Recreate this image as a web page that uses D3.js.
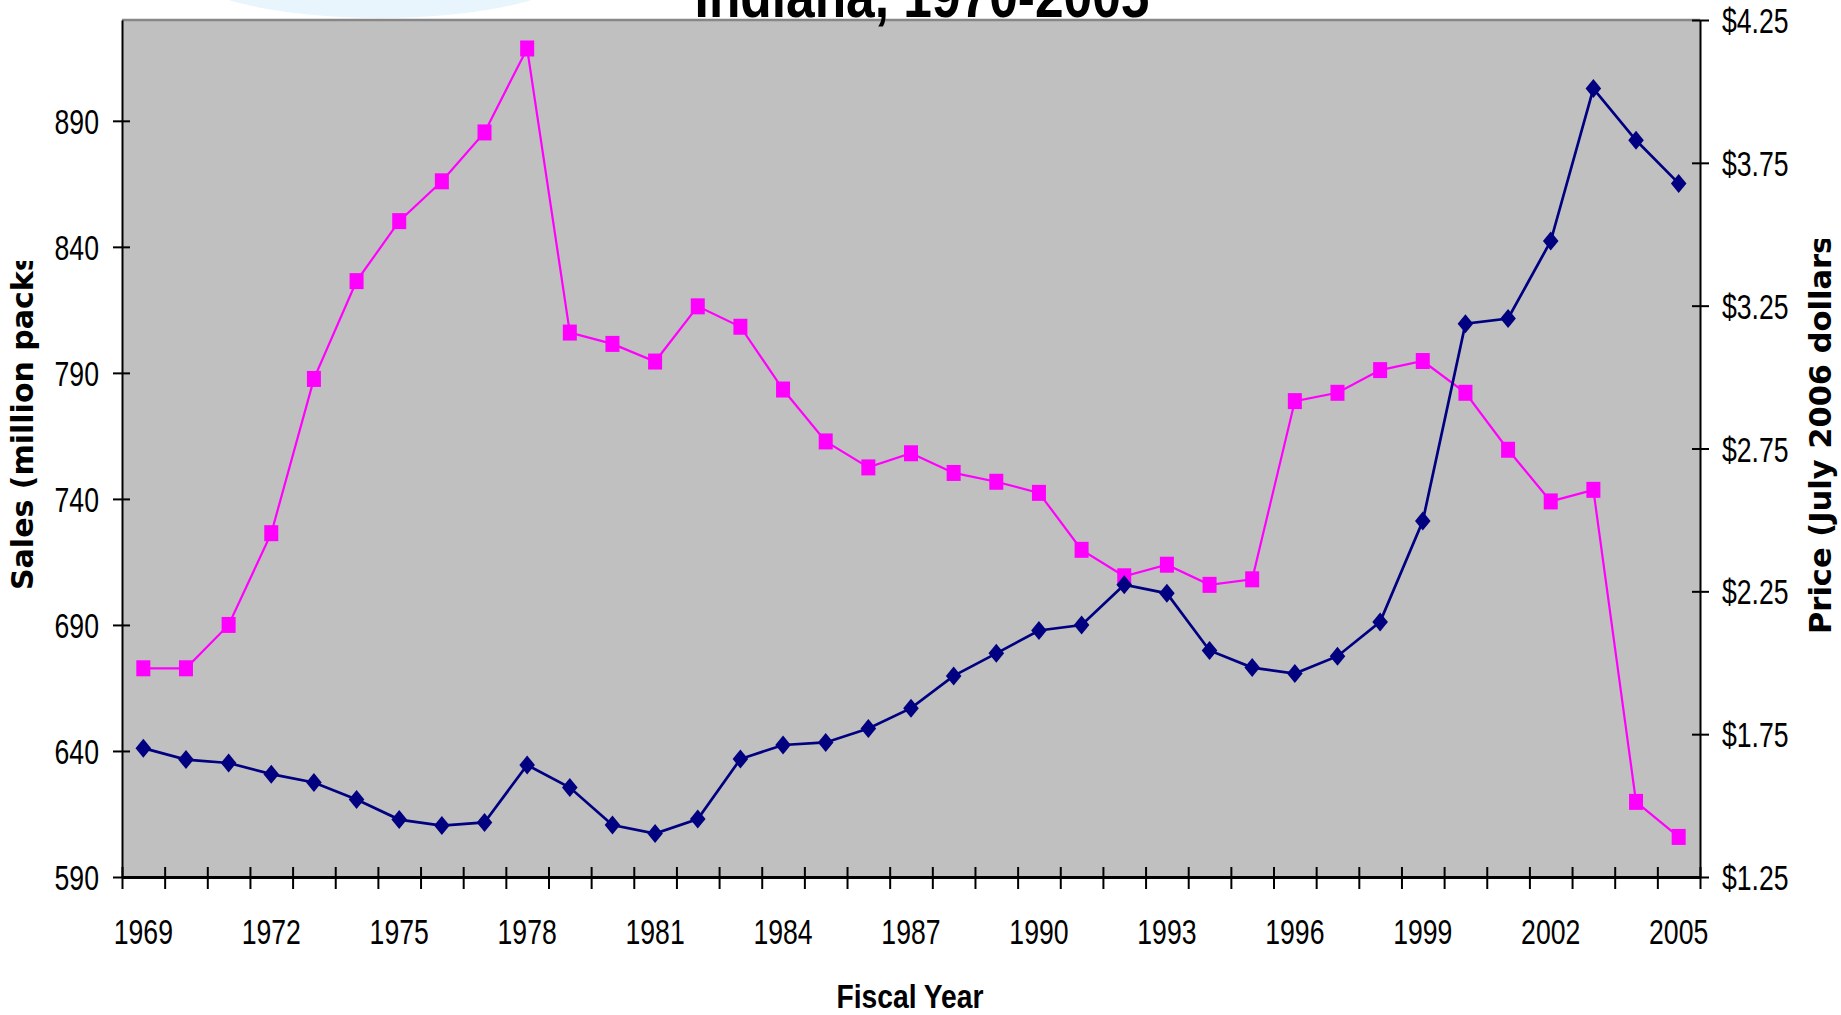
<!DOCTYPE html>
<html>
<head>
<meta charset="utf-8">
<script src="https://cdn.jsdelivr.net/npm/d3@7"></script>
<style>
  body { margin: 0; background: #fff; }
  svg { display: block; }
</style>
</head>
<body>
<div id="chart-area"></div>
<script>
// values
const years = [1969, 1970, 1971, 1972, 1973, 1974, 1975, 1976, 1977, 1978,
  1979, 1980, 1981, 1982, 1983, 1984, 1985, 1986, 1987, 1988,
  1989, 1990, 1991, 1992, 1993, 1994, 1995, 1996, 1997, 1998,
  1999, 2000, 2001, 2002, 2003, 2004, 2005]

// sales, million packs (left axis)
const sales = [672.8, 672.8, 690.0, 726.4, 787.6, 826.4, 850.2, 866.0, 885.4, 918.7,
  806.0, 801.5, 794.5, 816.4, 808.3, 783.4, 762.8, 752.5, 758.1, 750.3,
  746.8, 742.4, 719.8, 709.3, 713.9, 705.9, 708.1, 778.8, 782.1, 791.1,
  794.7, 782.1, 759.5, 739.0, 743.6, 619.8, 605.9]

// price, July 2006 dollars (right axis)
const price = [1.701, 1.661, 1.649, 1.610, 1.581, 1.521, 1.451, 1.430, 1.441, 1.642,
  1.563, 1.432, 1.402, 1.453, 1.663, 1.712, 1.721, 1.770, 1.841, 1.954,
  2.033, 2.113, 2.132, 2.273, 2.243, 2.043, 1.983, 1.962, 2.023, 2.143,
  2.496, 3.187, 3.205, 3.476, 4.010, 3.829, 3.678]

const leftTicks = [590, 640, 690, 740, 790, 840, 890]
const rightTicks = [1.25, 1.75, 2.25, 2.75, 3.25, 3.75, 4.25]
const labelYears = [1969, 1972, 1975, 1978, 1981, 1984, 1987, 1990, 1993, 1996, 1999, 2002, 2005]

const W = 1841, H = 1015
const PLOT = { LEFT: 122, RIGHT: 1700, TOP: 20, BOTTOM: 877 }
const SX = 0.74 // narrow look of the tick font

const svg = d3.select("#chart-area").append("svg")
  .attr("width", W)
  .attr("height", H)

const defs = svg.append("defs")
defs.append("clipPath").attr("id", "clipL")
  .append("rect").attr("x", 0).attr("y", 261).attr("width", 110).attr("height", 600)
defs.append("clipPath").attr("id", "clipR")
  .append("rect").attr("x", 1760).attr("y", 239).attr("width", 81).attr("height", 600)

// pale blue shape peeking in at the top
svg.append("ellipse")
  .attr("cx", 380).attr("cy", -34)
  .attr("rx", 200).attr("ry", 52)
  .attr("fill", "#e9f5fd")

// scales
const x = d3.scaleBand().domain(years).range([PLOT.LEFT, PLOT.RIGHT]).padding(0)
const xi = d3.scaleLinear().domain([0, years.length]).range([PLOT.LEFT, PLOT.RIGHT])
const yL = d3.scaleLinear().domain([590, 930]).range([PLOT.BOTTOM, PLOT.TOP])
const yR = d3.scaleLinear().domain([1.25, 4.25]).range([PLOT.BOTTOM, PLOT.TOP])
const cx = d => x(d) + x.bandwidth() / 2

// plot area
svg.append("rect")
  .attr("x", PLOT.LEFT).attr("y", PLOT.TOP)
  .attr("width", PLOT.RIGHT - PLOT.LEFT)
  .attr("height", PLOT.BOTTOM - PLOT.TOP)
  .attr("fill", "#c0c0c0")
svg.append("line")
  .attr("x1", PLOT.LEFT).attr("x2", PLOT.RIGHT)
  .attr("y1", PLOT.TOP).attr("y2", PLOT.TOP)
  .attr("stroke", "#878787").attr("stroke-width", 2.5)

// sales line (magenta squares)
const salesPts = years.map((d, i) => ({ year: d, v: sales[i] }))
svg.append("path")
  .attr("fill", "none")
  .attr("stroke", "#ff00ff")
  .attr("stroke-width", 2.2)
  .attr("d", d3.line().x(d => cx(d.year)).y(d => yL(d.v))(salesPts))
svg.append("g").selectAll("rect")
  .data(salesPts)
  .join("rect")
  .attr("x", d => cx(d.year) - 7)
  .attr("y", d => yL(d.v) - 8)
  .attr("width", 14).attr("height", 16)
  .attr("fill", "#ff00ff")

// price line (navy diamonds)
const pricePts = years.map((d, i) => ({ year: d, v: price[i] }))
svg.append("path")
  .attr("fill", "none")
  .attr("stroke", "#000080")
  .attr("stroke-width", 2.7)
  .attr("d", d3.line().x(d => cx(d.year)).y(d => yR(d.v))(pricePts))
svg.append("g").selectAll("path")
  .data(pricePts)
  .join("path")
  .attr("transform", d => `translate(${cx(d.year)},${yR(d.v)})`)
  .attr("d", "M0,-9.5L7.8,0L0,9.5L-7.8,0Z")
  .attr("fill", "#000080")

// axes
function styleAxis(g) {
  g.attr("font-family", "'Liberation Sans', Arial, sans-serif")
    .attr("font-size", 36)
  g.selectAll(".domain, .tick line").attr("stroke", "#000").attr("stroke-width", 2)
}

const leftAxis = svg.append("g")
  .attr("transform", `translate(${PLOT.LEFT},0)`)
  .call(d3.axisLeft(yL).tickValues(leftTicks).tickSizeOuter(0))
  .call(styleAxis)
leftAxis.selectAll(".tick line").attr("x1", -9).attr("x2", 8)
leftAxis.selectAll(".tick text")
  .attr("x", 0).attr("dy", null).attr("y", 12.5)
  .attr("text-anchor", "end")
  .attr("transform", `translate(-23,0) scale(${SX},1)`)

const rightAxis = svg.append("g")
  .attr("transform", `translate(${PLOT.RIGHT},0)`)
  .call(d3.axisRight(yR).tickValues(rightTicks).tickSizeOuter(0)
    .tickFormat(d => "$" + d3.format(".2f")(d)))
  .call(styleAxis)
rightAxis.selectAll(".tick line").attr("x1", -8).attr("x2", 9)
rightAxis.selectAll(".tick text")
  .attr("x", 0).attr("dy", null).attr("y", 12.5)
  .attr("text-anchor", "start")
  .attr("transform", `translate(22,0) scale(${SX},1)`)

// tick marks between the years
const bottomTicks = svg.append("g")
  .attr("transform", `translate(0,${PLOT.BOTTOM})`)
  .call(d3.axisBottom(xi).tickValues(d3.range(years.length + 1)).tickFormat("").tickSizeOuter(0))
  .call(styleAxis)
bottomTicks.select(".domain").attr("stroke-width", 3)
bottomTicks.selectAll(".tick line").attr("y1", -10).attr("y2", 12)

// year labels
const bottomLabels = svg.append("g")
  .attr("transform", `translate(0,${PLOT.BOTTOM})`)
  .call(d3.axisBottom(x).tickValues(labelYears).tickSize(0))
  .call(styleAxis)
bottomLabels.select(".domain").remove()
bottomLabels.selectAll(".tick text")
  .attr("y", 0).attr("dy", null)
  .attr("text-anchor", "middle")
  .attr("transform", `translate(0,67) scale(${SX},1)`)

// axis titles (clipped at the top like the original)
svg.append("g").attr("clip-path", "url(#clipL)")
  .append("text")
  .attr("transform", "translate(33,590) rotate(-90)")
  .attr("font-family", "'DejaVu Sans', Verdana, sans-serif")
  .attr("font-weight", "bold")
  .attr("font-size", 30)
  .attr("text-anchor", "start")
  .text("Sales (million packs)")

svg.append("g").attr("clip-path", "url(#clipR)")
  .append("text")
  .attr("transform", "translate(1831,634) rotate(-90)")
  .attr("font-family", "'DejaVu Sans', Verdana, sans-serif")
  .attr("font-weight", "bold")
  .attr("font-size", 30.5)
  .attr("text-anchor", "start")
  .text("Price (July 2006 dollars)")

svg.append("text")
  .attr("transform", "translate(910,1008) scale(0.83,1)")
  .attr("font-family", "'Liberation Sans', Arial, sans-serif")
  .attr("font-weight", "bold")
  .attr("font-size", 34)
  .attr("text-anchor", "middle")
  .text("Fiscal Year")

// chart title, mostly above the top edge
svg.append("text")
  .attr("transform", "translate(922,17) scale(0.83,1)")
  .attr("font-family", "'Liberation Sans', Arial, sans-serif")
  .attr("font-weight", "bold")
  .attr("font-size", 62)
  .attr("text-anchor", "middle")
  .text("Indiana, 1970-2005")
</script>
</body>
</html>
